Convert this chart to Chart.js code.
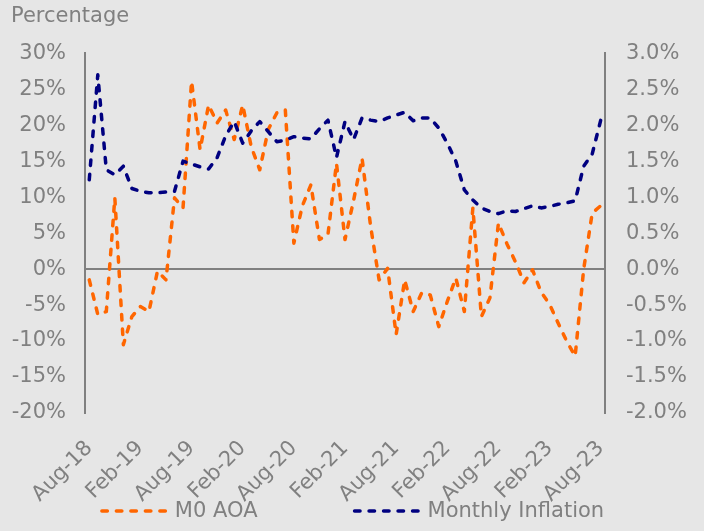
<!DOCTYPE html>
<html>
<head>
<meta charset="utf-8">
<script src="https://cdn.jsdelivr.net/npm/chart.js@4.4.1/dist/chart.umd.min.js"></script>
<style>
  html, body { margin: 0; padding: 0; background: #e6e6e6; }
  #wrap { width: 704px; height: 531px; }
</style>
</head>
<body>
<div id="wrap"><canvas id="m0Chart" width="704" height="531"></canvas></div>
<script>
// Monthly categories, Aug-18 .. Aug-23
const MONTHS = ['Jan','Feb','Mar','Apr','May','Jun','Jul','Aug','Sep','Oct','Nov','Dec'];
const categories = [];
for (let k = 7; k <= 7 + 60; k++) {
    categories.push(MONTHS[k % 12] + '-' + (18 + Math.floor(k / 12)));
}

// M0 AOA, % (left axis)
const m0Aoa = [
    -1.5, -6.3, -5.9, 9.9, -10.5, -6.6, -5.2, -5.9, -0.3, -1.5,
    9.9, 8.5, 26.1, 16.6, 22.8, 20.3, 22.1, 18.0, 22.8, 17.0,
    13.8, 19.4, 21.7, 22.1, 3.6, 8.8, 11.7, 4.1, 4.8, 14.7,
    4.1, 9.5, 15.4, 6.0, -1.5, 0.1, -9.1, -1.5, -5.9, -3.3,
    -3.6, -8.0, -4.5, -1.25, -5.9, 8.5, -6.6, -4.0, 6.4, 3.5,
    1.0, -1.9, -0.1, -3.2, -4.9, -7.5, -10.0, -12.1, 0.0, 7.8,
    8.8
];

// Monthly inflation, % (right axis)
const monthlyInflation = [
    1.24, 2.70, 1.38, 1.31, 1.43, 1.12, 1.08, 1.06, 1.06, 1.07,
    1.08, 1.50, 1.46, 1.42, 1.39, 1.55, 1.85, 2.05, 1.75, 1.92,
    2.05, 1.91, 1.77, 1.79, 1.84, 1.82, 1.81, 1.95, 2.07, 1.55,
    2.05, 1.80, 2.10, 2.07, 2.05, 2.10, 2.14, 2.18, 2.06, 2.10,
    2.10, 1.96, 1.75, 1.50, 1.10, 0.96, 0.85, 0.80, 0.77, 0.81,
    0.80, 0.84, 0.88, 0.85, 0.87, 0.90, 0.92, 0.95, 1.43, 1.60,
    2.07
];

const GREY = '#808080';
const FONT = 'DejaVu Sans';
Chart.defaults.font.family = FONT;
Chart.defaults.font.size = 21;
Chart.defaults.color = GREY;

// Legend with dashed samples, drawn under the axis labels
const dashLegend = {
    id: 'dashLegend',
    afterDraw(chart) {
        const ctx = chart.ctx;
        const sample = 67, textGap = 8, itemGap = 95, y = 512;
        ctx.save();
        ctx.font = '21px ' + FONT;
        const items = chart.data.datasets.map(ds => ({ ds, w: ctx.measureText(ds.label).width }));
        const total = items.reduce((s, it) => s + sample + textGap + it.w, 0) + itemGap * (items.length - 1);
        let x = chart.width / 2 - total / 2;
        items.forEach(it => {
            ctx.strokeStyle = it.ds.borderColor;
            ctx.lineWidth = it.ds.borderWidth;
            ctx.lineCap = 'round';
            ctx.setLineDash(it.ds.borderDash);
            ctx.beginPath();
            ctx.moveTo(x + 2, y - 1);
            ctx.lineTo(x + sample, y - 1);
            ctx.stroke();
            ctx.setLineDash([]);
            ctx.fillStyle = GREY;
            ctx.textBaseline = 'middle';
            ctx.textAlign = 'left';
            ctx.fillText(it.ds.label, x + sample + textGap, y);
            x += sample + textGap + it.w + itemGap;
        });
        ctx.restore();
    }
};

new Chart(document.getElementById('m0Chart'), {
    type: 'line',
    data: {
        labels: categories,
        datasets: [{
            label: 'M0 AOA',
            data: m0Aoa,
            yAxisID: 'y',
            borderColor: '#ff6600',
            borderWidth: 3.5,
            borderDash: [5.5, 9],
            borderCapStyle: 'round',
            borderJoinStyle: 'round',
            pointRadius: 0,
            tension: 0,
            order: 2
        }, {
            label: 'Monthly Inflation',
            data: monthlyInflation,
            yAxisID: 'y1',
            borderColor: '#000080',
            borderWidth: 3.5,
            borderDash: [5.5, 9],
            borderCapStyle: 'round',
            borderJoinStyle: 'round',
            pointRadius: 0,
            tension: 0,
            order: 1
        }]
    },
    options: {
        responsive: false,
        animation: false,
        layout: { padding: { left: 11, right: 0, top: 0, bottom: 0 } },
        scales: {
            x: {
                offset: true,
                grid: { display: false },
                border: { display: false },
                ticks: {
                    autoSkip: false, minRotation: 45, maxRotation: 45, padding: 15,
                    callback(v, i) { return i % 6 === 0 ? this.getLabelForValue(v) : null; }
                },
                afterFit(scale) { scale.height = 118; }
            },
            y: {
                position: 'left',
                min: -20, max: 30,
                ticks: { stepSize: 5, padding: 19, callback: v => v + '%' },
                grid: {
                    drawTicks: false, lineWidth: 2,
                    color: c => (c.tick && c.tick.value === 0) ? GREY : 'rgba(0,0,0,0)'
                },
                border: { display: true, color: GREY, width: 2 },
                afterFit(scale) { scale.width = 74; }
            },
            y1: {
                position: 'right',
                min: -2, max: 3,
                ticks: { stepSize: 0.5, padding: 21, callback: v => v.toFixed(1) + '%' },
                grid: { display: false, drawTicks: false },
                border: { display: true, color: GREY, width: 2 },
                afterFit(scale) { scale.width = 99; }
            }
        },
        plugins: {
            legend: { display: false },
            tooltip: { enabled: false },
            title: {
                display: true, text: 'Percentage', align: 'start', color: GREY,
                font: { size: 21, weight: 'normal' },
                padding: { top: 4, bottom: 24 }
            }
        }
    },
    plugins: [dashLegend]
});
</script>
</body>
</html>
